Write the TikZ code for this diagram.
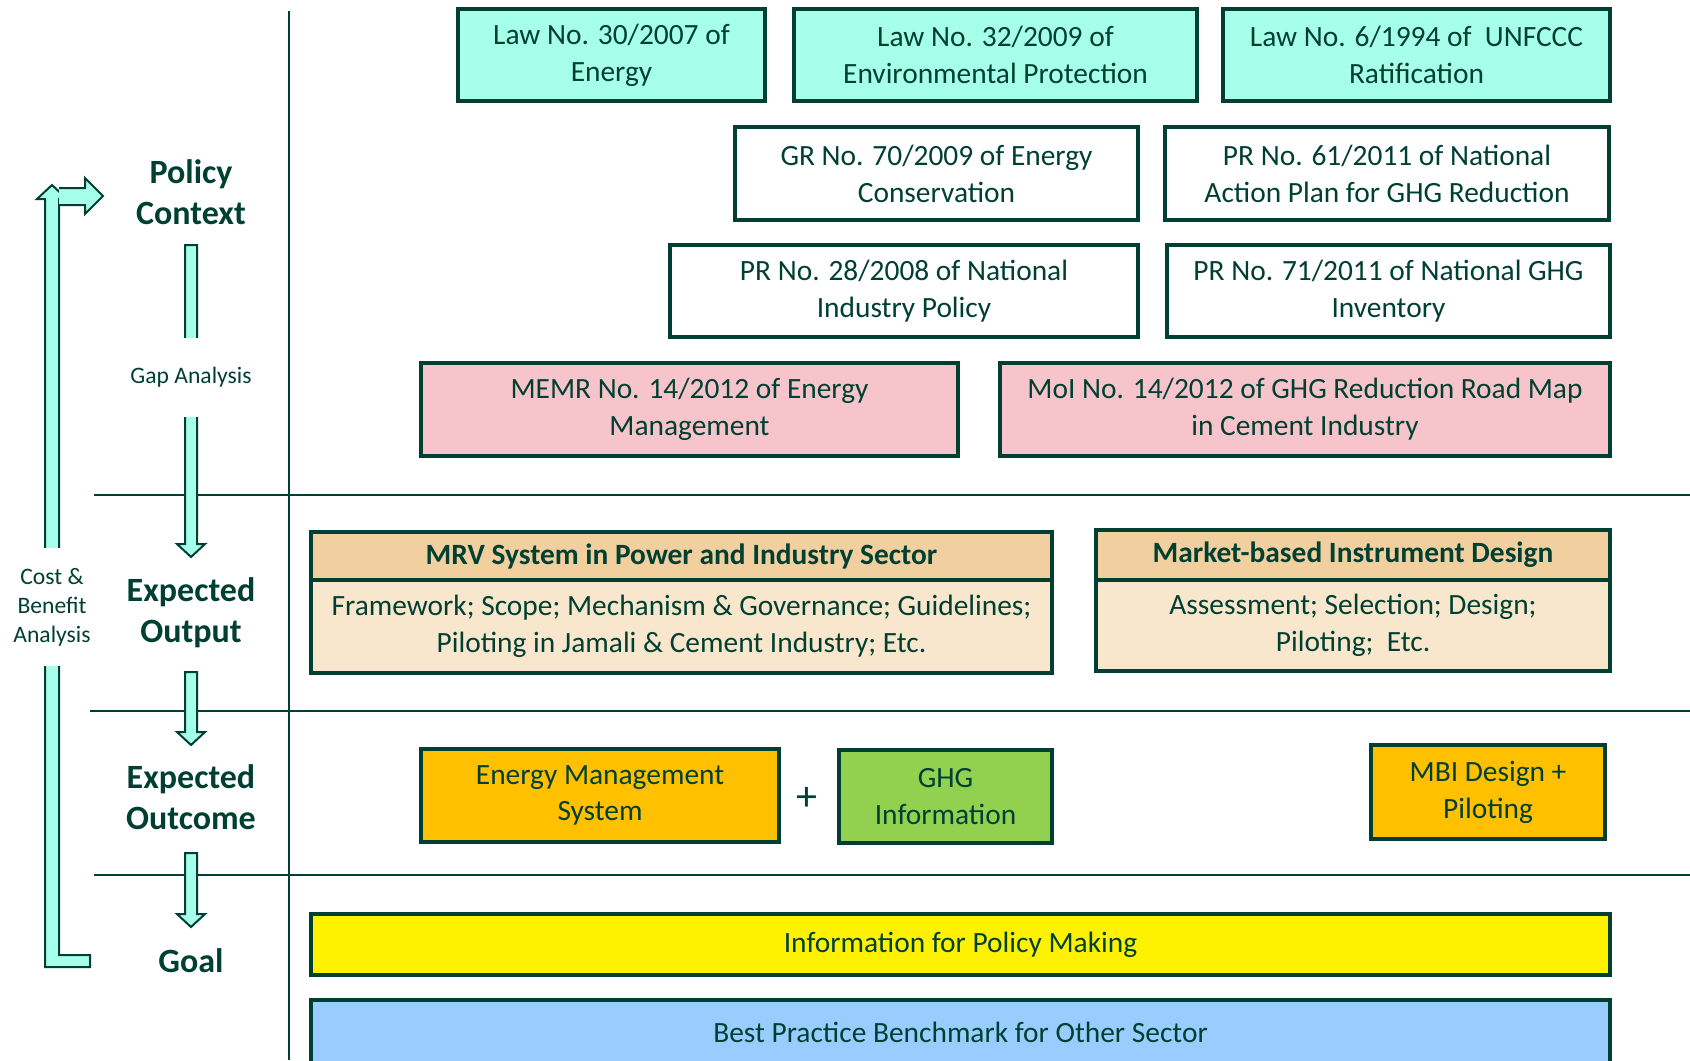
\documentclass[tikz,border=0pt]{standalone}
\usepackage{fontspec}
\setmainfont{Carlito}
\usetikzlibrary{calc}

\definecolor{darkteal}{RGB}{0,64,50}
\definecolor{mint}{RGB}{166,255,234}
\definecolor{rosepink}{RGB}{248,196,204}
\definecolor{tanhead}{RGB}{242,207,158}
\definecolor{tanbody}{RGB}{248,230,205}
\definecolor{amber}{RGB}{255,192,0}
\definecolor{leafgreen}{RGB}{146,208,80}
\definecolor{skyblue}{RGB}{153,204,255}

% block arrow pointing down, from #1 (top) to #2 (tip)
\newcommand{\downblock}[2]{%
  \draw[block arrow] ($(#1)+(-6,0)$) -- ($(#2)+(-6,-13)$) -- ($(#2)+(-14,-13)$) -- (#2)
    -- ($(#2)+(14,-13)$) -- ($(#2)+(6,-13)$) -- ($(#1)+(6,0)$) -- cycle;}

\begin{document}
\begin{tikzpicture}[x=0.5pt,y=-0.5pt,every node/.style={text=darkteal},
    wh/.style 2 args={minimum width=#1*0.5pt,minimum height=#2*0.5pt}]
    \tikzstyle{box}=[draw=darkteal,line width=2pt,inner sep=0pt,align=center,font=\fontsize{14.7}{18.4}\selectfont]
    \tikzstyle{law box}=[box,fill=mint]
    \tikzstyle{rule box}=[box,fill=white]
    \tikzstyle{reg box}=[box,fill=rosepink]
    \tikzstyle{head box}=[box,fill=tanhead,font=\fontsize{14.7}{18.4}\selectfont\bfseries]
    \tikzstyle{body box}=[box,fill=tanbody]
    \tikzstyle{stage}=[align=center,font=\fontsize{17}{20.7}\selectfont\bfseries]
    \tikzstyle{note}=[align=center,font=\fontsize{11.8}{14.5}\selectfont,fill=white,inner xsep=1pt]
    \tikzstyle{block arrow}=[draw=darkteal,fill=mint,line width=1pt,line join=miter]
    \tikzstyle{rule line}=[draw=darkteal,line width=1pt]

    \useasboundingbox (0,0) rectangle (1690,1060);

% grid
\draw[rule line] (289,11) -- (289,1060);
\draw[rule line] (94,495) -- (1690,495);
\draw[rule line] (90,711) -- (1690,711);
\draw[rule line] (94,875) -- (1690,875);

% laws
\node[law box,wh={307}{92}] (law30) at (611.5,55) {Law No. 30/2007 of\\Energy};
\node[law box,wh={403}{92}] (law32) at (995.5,55) {Law No. 32/2009 of\\Environmental Protection};
\node[law box,wh={387}{92}] (law6) at (1416.5,55) {Law No. 6/1994 of \ UNFCCC\\Ratification};
% regulations
\node[rule box,wh={403}{93}] (gr70) at (936.5,173.5) {GR No. 70/2009 of Energy\\Conservation};
\node[rule box,wh={444}{93}] (pr61) at (1387,173.5) {PR No. 61/2011 of National\\Action Plan for GHG Reduction};
\node[rule box,wh={468}{92}] (pr28) at (904,291) {PR No. 28/2008 of National\\Industry Policy};
\node[rule box,wh={443}{92}] (pr71) at (1388.5,291) {PR No. 71/2011 of National GHG\\Inventory};
\node[reg box,wh={537}{93}] (memr) at (689.5,409.5) {MEMR No. 14/2012 of Energy\\Management};
\node[reg box,wh={610}{93}] (moi) at (1305,409.5) {MoI No. 14/2012 of GHG Reduction Road Map\\in Cement Industry};

% outputs
\node[head box,wh={741}{48}] (mrvhead) at (681.5,556) {MRV System in Power and Industry Sector};
\node[body box,wh={741}{93}] (mrvbody) at (681.5,626.5) {Framework; Scope; Mechanism \& Governance; Guidelines;\\Piloting in Jamali \& Cement Industry; Etc.};
\node[head box,wh={514}{50}] (mbihead) at (1353,555) {Market-based Instrument Design};
\node[body box,wh={514}{91}] (mbibody) at (1353,625.5) {Assessment; Selection; Design;\\Piloting; \ Etc.};

% outcomes
\node[box,fill=amber,wh={358}{93}] (ems) at (600,795.5) {Energy Management\\System};
\node[font=\fontsize{21}{24}\selectfont] (plus) at (807,799) {+};
\node[box,fill=leafgreen,wh={213}{93}] (ghg) at (945.5,796.5) {GHG\\Information};
\node[box,fill=amber,wh={234}{94}] (mbi) at (1488,792) {MBI Design +\\Piloting};

% goals
\node[box,fill=yellow,wh={1299}{61}] (info) at (960.5,944.5) {Information for Policy Making};
\node[box,fill=skyblue,wh={1299}{64}] (best) at (960.5,1032) {Best Practice Benchmark for Other Sector};

% stages
\node[stage] (policy) at (191,192) {Policy\\Context};
\node[stage] (output) at (191,613) {Expected\\Output};
\node[stage] (outcome) at (191,797) {Expected\\Outcome};
\node[stage] (goal) at (191,961) {Goal};

% flow between stages
\coordinate (gap top) at (191,245);
\coordinate (gap tip) at (191,557);
\coordinate (out top) at (191,672);
\coordinate (out tip) at (191,745);
\coordinate (goal top) at (191,853);
\coordinate (goal tip) at (191,927);
\downblock{gap top}{gap tip}
\downblock{out top}{out tip}
\downblock{goal top}{goal tip}
\node[note,minimum height=39.5pt] (gap) at (191,377) {Gap Analysis};

% feedback loop
\draw[block arrow] (45,967) -- (90,967) -- (90,955) -- (59,955) -- (59,199) -- (67,199)
    -- (52,185) -- (37,199) -- (45,199) -- cycle;
\draw[block arrow] (59,188) -- (85,188) -- (85,178) -- (103,196) -- (85,214) -- (85,205) -- (59,205);
\node[note,minimum height=59pt] (cba) at (52,607) {Cost \&\\Benefit\\Analysis};
\end{tikzpicture}
\end{document}
